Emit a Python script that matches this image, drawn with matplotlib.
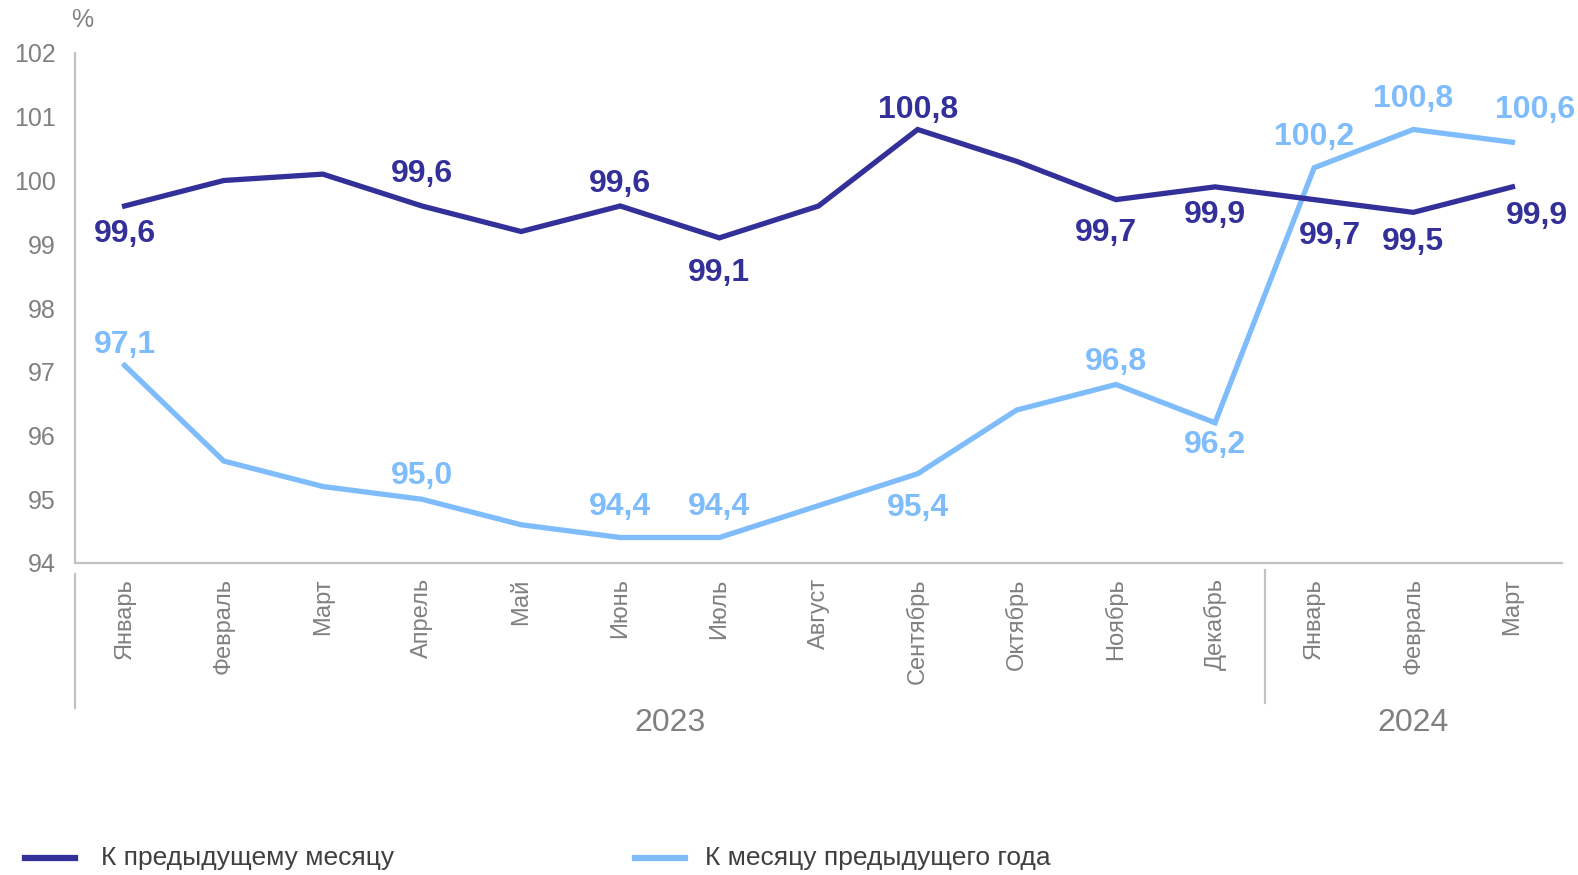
import matplotlib
matplotlib.use("Agg")
import matplotlib.pyplot as plt
from matplotlib import font_manager
from matplotlib.lines import Line2D
import matplotlib.transforms as mtransforms

# ── data ────────────────────────────────────────────────────────────────────
months = ["Январь", "Февраль", "Март", "Апрель", "Май", "Июнь", "Июль",
          "Август", "Сентябрь", "Октябрь", "Ноябрь", "Декабрь",
          "Январь", "Февраль", "Март"]
years = ["2023", "2024"]
year_sizes = [12, 3]

prev_month = [99.6, 100.0, 100.1, 99.6, 99.2, 99.6, 99.1, 99.6,
              100.8, 100.3, 99.7, 99.9, 99.7, 99.5, 99.9]
prev_year = [97.1, 95.6, 95.2, 95.0, 94.6, 94.4, 94.4, 94.9,
             95.4, 96.4, 96.8, 96.2, 100.2, 100.8, 100.6]

# which points get a value label, and where (dx, dy in points)
prev_month_labels = {0: (0, -20), 3: (0, 23), 5: (0, 16), 6: (0, -25),
                     8: (0, 14), 10: (-7, -24), 11: (0, -20), 12: (11, -26),
                     13: (0, -21), 14: (18, -21)}
prev_year_labels = {0: (0, 15), 3: (0, 17), 5: (0, 22), 6: (0, 22),
                    8: (0, -25), 10: (0, 16), 11: (0, -16), 12: (0, 22),
                    13: (0, 22), 14: (16, 23)}

legend_names = ["К предыдущему месяцу", "К месяцу предыдущего года"]

DARK = "#33309a"
LIGHT = "#7fbcfc"
GREY = "#808080"
AXIS = "#c3c3c3"

installed = {f.name for f in font_manager.fontManager.ttflist}
BASE = "Liberation Sans" if "Liberation Sans" in installed else "DejaVu Sans"
plt.rcParams["font.family"] = [BASE, "DejaVu Sans"]

W, H = 1578, 875
fig = plt.figure(figsize=(W / 100, H / 100), dpi=100)
left, right, top, bottom = 75, 1562, 53, 563
ax = fig.add_axes([left / W, 1 - bottom / H, (right - left) / W, (bottom - top) / H])

x = list(range(len(months)))
ax.plot(x, prev_month, color=DARK, lw=3.8, solid_joinstyle="miter", zorder=3)
ax.plot(x, prev_year, color=LIGHT, lw=3.8, solid_joinstyle="miter", zorder=2)

def fmt(v):
    return f"{v:.1f}".replace(".", ",")

for series, labels, col in ((prev_month, prev_month_labels, DARK),
                            (prev_year, prev_year_labels, LIGHT)):
    for i, (dx, dy) in labels.items():
        ax.annotate(fmt(series[i]), (x[i], series[i]), xytext=(dx, dy),
                    textcoords="offset points", ha="center", va="center",
                    fontsize=23, fontweight="bold", color=col, zorder=4,
                    annotation_clip=False)

ax.set_xlim(-0.5, len(months) - 0.5)
ax.set_ylim(94, 102)
ax.set_yticks(range(94, 103))
ax.tick_params(axis="y", length=0, pad=14, labelsize=18, labelcolor=GREY)
ax.set_xticks(x)
ax.set_xticklabels(months, rotation=90, va="top", ha="center")
ax.tick_params(axis="x", length=0, pad=11, labelsize=17, labelcolor=GREY)

for s in ("top", "right"):
    ax.spines[s].set_visible(False)
for s in ("left", "bottom"):
    ax.spines[s].set_color(AXIS)
    ax.spines[s].set_linewidth(1.6)

# category group separators and year labels below the axis
trans = mtransforms.blended_transform_factory(ax.transData, ax.transAxes)
start = 0
bounds = [-0.5]
for n in year_sizes:
    start += n
    bounds.append(start - 0.5)
ax.plot([bounds[0], bounds[0]], [-0.022, -0.284], color=AXIS, lw=1.6,
        transform=trans, clip_on=False)
ax.plot([bounds[1], bounds[1]], [-0.014, -0.275], color=AXIS, lw=1.6,
        transform=trans, clip_on=False)
for yr, a, b in zip(years, bounds[:-1], bounds[1:]):
    ax.text((a + b) / 2, -0.314, yr, transform=trans, ha="center", va="center",
            fontsize=23, color=GREY)

fig.text(82 / W, 1 - 20 / H, "%", ha="center", va="center", fontsize=18, color=GREY)

# legend, drawn by hand to sit where the original has it
for (x0, x1, tx), name, col in zip(((25, 75, 101), (635, 685, 705)),
                                   legend_names, (DARK, LIGHT)):
    fig.add_artist(Line2D([x0 / W, x1 / W], [1 - 858 / H] * 2, color=col, lw=4.5))
    fig.text(tx / W, 1 - 858 / H, name, ha="left", va="center", fontsize=19,
             color="#404040")

fig.savefig("out.png", dpi=100)
